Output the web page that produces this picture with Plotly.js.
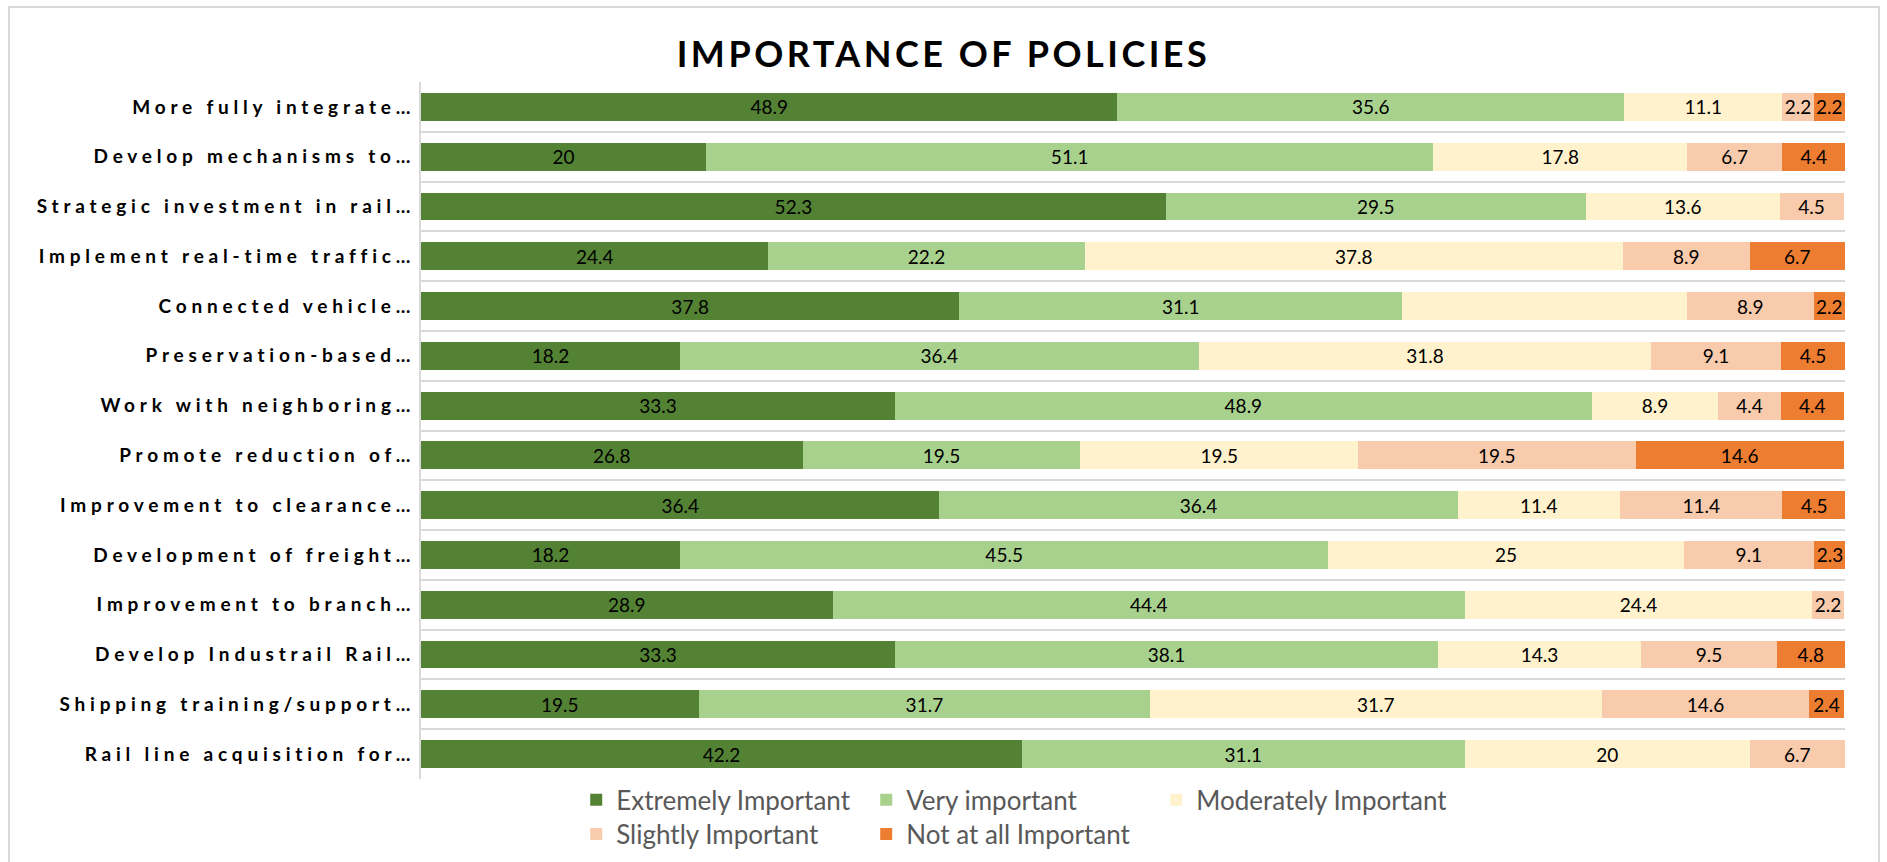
<!DOCTYPE html>
<html>
<head>
<meta charset="utf-8">
<script src="https://cdn.plot.ly/plotly-3.0.1.min.js"></script>
<style>
  html, body { margin: 0; padding: 0; background: #ffffff; }
  #chart { width: 1887px; height: 862px; position: relative; }
  #frame { position: absolute; left: 8px; top: 6px; width: 1872px; height: 860px; border: 2px solid #d9d9d9; box-sizing: border-box; pointer-events: none; }
  .ytick text { letter-spacing: 4.8px; }
  .gtitle { letter-spacing: 3.5px; }
</style>
</head>
<body>
<div id="chart"></div>
<div id="frame"></div>
<script>
const categories = [
  "More fully integrate…",
  "Develop mechanisms to…",
  "Strategic investment in rail…",
  "Implement real-time traffic…",
  "Connected vehicle…",
  "Preservation-based…",
  "Work with neighboring…",
  "Promote reduction of…",
  "Improvement to clearance…",
  "Development of freight…",
  "Improvement to branch…",
  "Develop Industrail Rail…",
  "Shipping training/support…",
  "Rail line acquisition for…"
];
const extremelyImportant = [48.9, 20, 52.3, 24.4, 37.8, 18.2, 33.3, 26.8, 36.4, 18.2, 28.9, 33.3, 19.5, 42.2];
const veryImportant      = [35.6, 51.1, 29.5, 22.2, 31.1, 36.4, 48.9, 19.5, 36.4, 45.5, 44.4, 38.1, 31.7, 31.1];
const moderatelyImportant= [11.1, 17.8, 13.6, 37.8, 20, 31.8, 8.9, 19.5, 11.4, 25, 24.4, 14.3, 31.7, 20];
const slightlyImportant  = [2.2, 6.7, 4.5, 8.9, 8.9, 9.1, 4.4, 19.5, 11.4, 9.1, 2.2, 9.5, 14.6, 6.7];
const notAtAllImportant  = [2.2, 4.4, null, 6.7, 2.2, 4.5, 4.4, 14.6, 4.5, 2.3, null, 4.8, 2.4, null];
// data labels not shown in the original (series name -> category indices)
const hiddenLabels = { "Moderately Important": [4] };

const seriesNames = ["Extremely Important", "Very important", "Moderately Important", "Slightly Important", "Not at all Important"];
const seriesValues = [extremelyImportant, veryImportant, moderatelyImportant, slightlyImportant, notAtAllImportant];
const seriesColors = ["#548235", "#A9D18E", "#FFF2CC", "#F8CBAD", "#ED7D31"];
const legendGroups = ["legend", "legend", "legend", "legend2", "legend2"];

const labelFont = "Lato, 'Open Sans', sans-serif";

const traces = seriesNames.map((name, s) => {
  const hidden = hiddenLabels[name] || [];
  return {
    type: "bar",
    orientation: "h",
    name: name,
    y: categories,
    x: seriesValues[s],
    text: seriesValues[s].map((v, i) => (v == null || hidden.includes(i)) ? "" : String(v)),
    textposition: "inside",
    insidetextanchor: "middle",
    textangle: 0,
    constraintext: "none",
    insidetextfont: { family: labelFont, size: 19, color: "#000000" },
    marker: { color: seriesColors[s], line: { width: 0 } },
    legend: legendGroups[s],
    hoverinfo: "x+y+name"
  };
});

const layout = {
  width: 1887,
  height: 862,
  paper_bgcolor: "#ffffff",
  plot_bgcolor: "#ffffff",
  barmode: "stack",
  bargap: 0.44,
  margin: { l: 421, r: 42, t: 82, b: 83, autoexpand: false },
  title: {
    text: "IMPORTANCE OF POLICIES",
    font: { family: labelFont, size: 36, color: "#000000", weight: "bold" },
    x: 0.5, xref: "container", xanchor: "center",
    y: 0.937, yref: "container", yanchor: "middle"
  },
  xaxis: {
    range: [0, 100],
    showgrid: false,
    zeroline: false,
    showticklabels: false,
    showline: false,
    fixedrange: true
  },
  yaxis: {
    type: "category",
    autorange: "reversed",
    tickson: "boundaries",
    showgrid: true,
    gridcolor: "#d9d9d9",
    gridwidth: 2,
    showline: true,
    linecolor: "#d9d9d9",
    linewidth: 2,
    ticks: "",
    ticklen: 0,
    tickfont: { family: labelFont, size: 19, color: "#000000", weight: "bold" },
    ticklabelstandoff: 0,
    fixedrange: true
  },
  showlegend: true,
  legend: {
    orientation: "h",
    x: 0.109, xanchor: "left",
    y: -0.030, yanchor: "middle",
    entrywidth: 245,
    font: { family: labelFont, size: 26, color: "#595959" },
    bgcolor: "rgba(0,0,0,0)",
    traceorder: "normal"
  },
  legend2: {
    orientation: "h",
    x: 0.109, xanchor: "left",
    y: -0.079, yanchor: "middle",
    entrywidth: 245,
    font: { family: labelFont, size: 26, color: "#595959" },
    bgcolor: "rgba(0,0,0,0)",
    traceorder: "normal"
  }
};

Plotly.newPlot("chart", traces, layout, { displayModeBar: false, responsive: false });
</script>
</body>
</html>
